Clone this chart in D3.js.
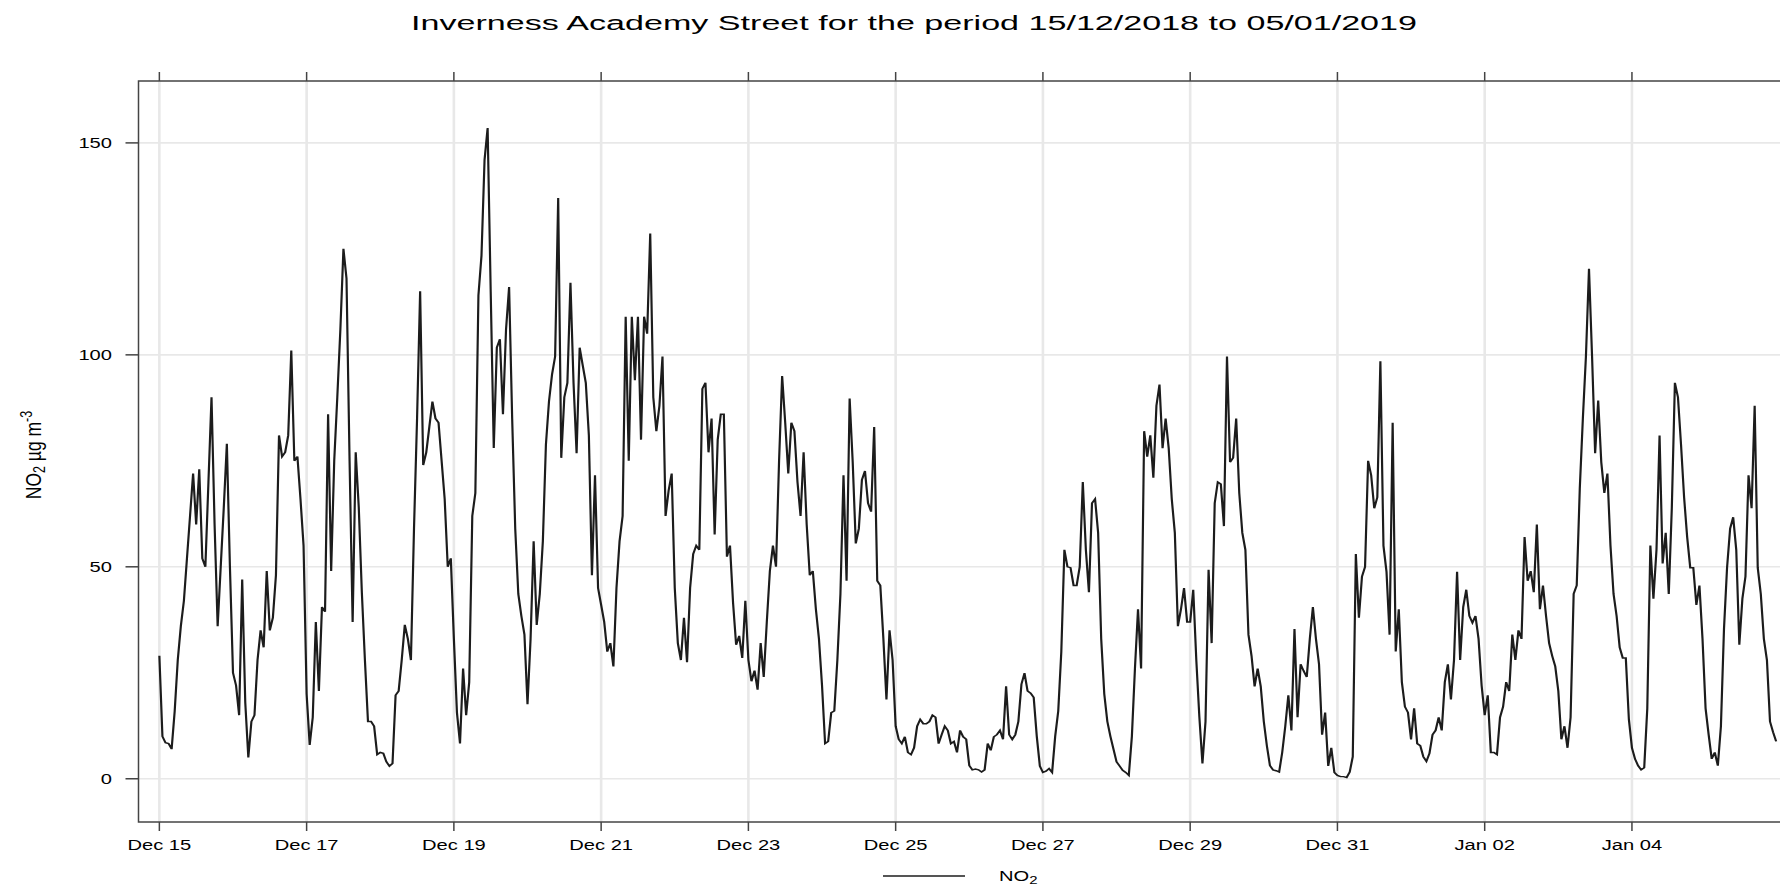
<!DOCTYPE html>
<html>
<head>
<meta charset="utf-8">
<script src="https://cdn.jsdelivr.net/npm/d3@7"></script>
<style>
  body { margin: 0; background: #fff; }
  svg { display: block; }
  text { font-family: "Liberation Sans", Arial, Helvetica, sans-serif; fill: #000; }
</style>
</head>
<body>
<svg id="chart" width="1780" height="889"></svg>
<script>
// Hourly NO2 (µg m-3) at Inverness Academy Street, one array per day, 00:00 to 23:00
const dec15 = [29, 10, 8.5, 8.3, 7, 16, 28, 36, 42, 52, 62, 72, 60, 73, 52, 50, 70, 90, 60, 36, 50, 64, 79, 50];
const dec16 = [25, 22, 15, 47, 18, 5, 13.5, 15, 28, 35, 31, 49, 35, 38, 48, 81, 76, 77, 81, 101, 75, 76, 66, 55];
const dec17 = [20, 8, 14.5, 37, 20.7, 40.5, 39.4, 86, 49, 75, 90, 106, 125, 118, 75, 37, 77, 64, 44, 28, 13.5, 13.5, 12.4, 5.7];
const dec18 = [6.2, 6, 4, 3, 3.6, 19.7, 20.7, 28, 36.3, 33, 28, 59, 85, 115, 74, 77, 83, 89, 85, 84, 75, 66, 50, 52];
const dec19 = [33, 15.6, 8.3, 26, 15, 22.8, 62, 67.4, 114, 123.4, 146, 153.5, 115, 78, 101.7, 103.7, 86, 106, 116, 85, 59, 43.6, 38.4, 34];
const dec20 = [17.6, 33, 56, 36.3, 43.6, 56, 78.8, 89, 95.4, 99.6, 137, 75.7, 90, 93.4, 117, 93.4, 76.8, 101.7, 97.5, 93.4, 81, 48, 71.6, 45];
const dec21 = [41, 37, 30, 32, 26.5, 45, 56, 62, 109, 75, 109, 94, 109, 80, 109, 105, 128.6, 90, 82, 88, 99.6, 62, 68, 72];
const dec22 = [45, 32, 28, 38, 27.5, 45, 53, 55, 54, 92, 93.4, 77, 85, 57.6, 80, 86, 86, 52.4, 55, 41.5, 31.6, 33.7, 28.5, 42];
const dec23 = [28, 23, 25.5, 21, 32, 24, 37, 49, 55, 50, 75, 95, 84, 72, 84, 82, 70, 62, 77, 60, 48, 49, 40, 33];
const dec24 = [22, 8.3, 8.8, 15.6, 16, 28, 43.6, 71.6, 46.7, 89.7, 74.7, 55.5, 59, 70.5, 72.6, 65, 63, 83, 46.7, 45.6, 33, 18.7, 35, 28];
const dec25 = [12.4, 9.3, 8.3, 9.9, 6.2, 5.7, 7.3, 12.4, 14, 13, 13, 13.5, 15, 14.5, 8.3, 10.4, 12.4, 11.4, 8.3, 8.8, 6.2, 11.4, 9.9, 9.3];
const dec26 = [3.1, 2.1, 2.3, 2.1, 1.6, 2.1, 8.3, 6.7, 9.9, 10.4, 11.4, 9.3, 21.8, 10.4, 9.3, 10.4, 13.5, 22.3, 24.9, 20.7, 20.2, 19.2, 10, 3];
const dec27 = [1.5, 1.8, 2.4, 1.5, 10, 16, 30, 54, 50, 49.8, 45.6, 45.6, 50, 70, 54, 44, 65, 66, 58, 33, 20, 13.5, 10, 7];
const dec28 = [4, 3, 2, 1.5, 0.8, 10, 26, 40, 26, 82, 76, 81, 71, 88, 93, 78, 85, 78, 66, 58, 36, 40, 45, 37];
const dec29 = [37, 44.6, 28, 14.5, 3.6, 13.5, 49.3, 32, 65, 70, 69.5, 59.6, 99.6, 74.7, 75.7, 85, 67.4, 58, 54, 34, 29, 21.8, 26, 21.8];
const dec30 = [13.5, 7.8, 3.1, 2.1, 1.9, 1.6, 6.2, 12.4, 19.7, 11.4, 35.3, 14.5, 27, 25.4, 24, 33, 40.5, 33, 27, 10.4, 15.6, 3, 7.3, 1.5];
const dec31 = [0.8, 0.5, 0.5, 0.3, 1.6, 5.2, 53, 38, 47.7, 50, 75, 71.6, 63.8, 66.4, 98.5, 55, 48.8, 34, 84, 30, 40, 22.8, 17, 15.6];
const jan01 = [9.3, 16.6, 8.3, 7.8, 5.2, 4.1, 6, 10.4, 11.4, 14.5, 11.4, 22.8, 27, 18.7, 28, 48.8, 28, 40.5, 44.6, 38.4, 36.8, 38.4, 33, 22];
const jan02 = [15, 19.7, 6.2, 6.2, 5.7, 14.5, 17, 22.8, 20.7, 34, 28, 35, 33, 57, 46.7, 49, 44, 60, 40, 45.6, 38.4, 32, 29, 26.5];
const jan03 = [20.7, 9.3, 12.4, 7.3, 14.5, 43.6, 45.6, 68.5, 85, 99.6, 120.3, 99.6, 76.8, 89.2, 74.7, 67.4, 72, 55, 43.6, 38.4, 31, 28.5, 28.5, 14];
const jan04 = [7.3, 4.7, 3.1, 2.1, 2.6, 16.6, 55, 42.5, 54, 81, 50.8, 58, 43.6, 64, 93.4, 90, 78.8, 66.4, 57, 49.8, 49.8, 41, 45.6, 33];
const jan05 = [16.6, 10.4, 4.7, 6.2, 3.1, 12.4, 35.3, 49.8, 59, 61.7, 54, 31.6, 42.5, 47.7, 71.6, 63.8, 88, 49.8, 43.6, 33, 28, 13.5, 11, 8.8];

const dailyValues = [dec15, dec16, dec17, dec18, dec19, dec20, dec21, dec22, dec23, dec24, dec25,
                     dec26, dec27, dec28, dec29, dec30, dec31, jan01, jan02, jan03, jan04, jan05];
const firstHour = new Date(2018, 11, 15, 0, 0, 0);

const titleText = "Inverness Academy Street for the period 15/12/2018 to 05/01/2019";
const yTicks = [0, 50, 100, 150];
const xTickStep = 2; // days between date labels
const yDomain = [-10.2, 164.6];

// Build the hourly series
const series = dailyValues.flat().map((v, i) => ({ t: d3.timeHour.offset(firstHour, i), v }));
const lastHour = series[series.length - 1].t;

// Layout
const svg = d3.select("#chart");
const frame = { left: 138.5, right: 1797, top: 81, bottom: 822 };
const padHours = 6.8;
const textStretch = 1.3;   // horizontal stretch of the labels
const penStretch = 1.5;    // the trace pen is wider across than along

const x = d3.scaleTime()
  .domain([new Date(+firstHour - padHours * 3600e3), new Date(+lastHour + padHours * 3600e3)])
  .range([frame.left, frame.right]);
const y = d3.scaleLinear().domain(yDomain).range([frame.bottom, frame.top]);

const xTicks = d3.timeDay.range(firstHour, d3.timeHour.offset(lastHour, 1), xTickStep);
const fmt = d3.timeFormat("%b %d");

// Grid
const grid = svg.append("g");
grid.selectAll("line.h").data(yTicks).join("line")
  .attr("x1", frame.left).attr("x2", frame.right)
  .attr("y1", d => y(d)).attr("y2", d => y(d))
  .attr("stroke", "#e8e8e8").attr("stroke-width", 1.6);
grid.selectAll("line.v").data(xTicks).join("line")
  .attr("x1", d => x(d)).attr("x2", d => x(d))
  .attr("y1", frame.top).attr("y2", frame.bottom)
  .attr("stroke", "#e8e8e8").attr("stroke-width", 2.6);

// Series line, drawn in a horizontally stretched group so steep strokes read wider
const xPen = x.copy().range([frame.left / penStretch, frame.right / penStretch]);
const line = d3.line().x(d => xPen(d.t)).y(d => y(d.v));
svg.append("g").attr("transform", `scale(${penStretch},1)`)
  .append("path").datum(series)
  .attr("d", line)
  .attr("fill", "none")
  .attr("stroke", "#1c1c1c")
  .attr("stroke-width", 1.45)
  .attr("stroke-linejoin", "miter")
  .attr("stroke-miterlimit", 4);

// Panel frame
svg.append("rect")
  .attr("x", frame.left).attr("y", frame.top)
  .attr("width", frame.right - frame.left).attr("height", frame.bottom - frame.top)
  .attr("fill", "none").attr("stroke", "#444").attr("stroke-width", 1.5);

// Ticks
const ticks = svg.append("g").attr("stroke", "#444").attr("stroke-width", 1.5);
ticks.selectAll("line.b").data(xTicks).join("line")
  .attr("x1", d => x(d)).attr("x2", d => x(d))
  .attr("y1", frame.bottom).attr("y2", frame.bottom + 9);
ticks.selectAll("line.t").data(xTicks).join("line")
  .attr("x1", d => x(d)).attr("x2", d => x(d))
  .attr("y1", frame.top).attr("y2", frame.top - 9);
ticks.selectAll("line.l").data(yTicks).join("line")
  .attr("x1", frame.left - 13).attr("x2", frame.left)
  .attr("y1", d => y(d)).attr("y2", d => y(d));

// Tick labels
svg.append("g").selectAll("text").data(xTicks).join("text")
  .attr("transform", d => `translate(${x(d)},850) scale(${textStretch},1)`)
  .attr("text-anchor", "middle")
  .attr("font-size", 15.5)
  .text(d => fmt(d));
svg.append("g").selectAll("text").data(yTicks).join("text")
  .attr("transform", d => `translate(112,${y(d)}) scale(${textStretch},1)`)
  .attr("text-anchor", "end")
  .attr("dy", "0.36em")
  .attr("font-size", 15.5)
  .text(d => d);

// Title
svg.append("text")
  .attr("x", 914).attr("y", 30)
  .attr("text-anchor", "middle")
  .attr("font-size", 20.5)
  .attr("textLength", 1006)
  .attr("lengthAdjust", "spacingAndGlyphs")
  .text(titleText);

// Y axis label: NO2 µg m-3
const yLab = svg.append("text")
  .attr("transform", `translate(41,455) scale(${textStretch},1) rotate(-90)`)
  .attr("text-anchor", "middle")
  .attr("font-size", 17.5);
yLab.append("tspan").text("NO");
yLab.append("tspan").attr("font-size", 12.5).attr("baseline-shift", "-25%").text("2");
yLab.append("tspan").text(" µg m");
yLab.append("tspan").attr("font-size", 12.5).attr("baseline-shift", "60%").text("-3");

// Legend
svg.append("line")
  .attr("x1", 883).attr("x2", 965).attr("y1", 876).attr("y2", 876)
  .attr("stroke", "#1c1c1c").attr("stroke-width", 1.3);
const leg = svg.append("text")
  .attr("transform", `translate(999,881) scale(${textStretch},1)`)
  .attr("font-size", 15.5);
leg.append("tspan").text("NO");
leg.append("tspan").attr("font-size", 11.5).attr("baseline-shift", "-25%").text("2");
</script>
</body>
</html>
